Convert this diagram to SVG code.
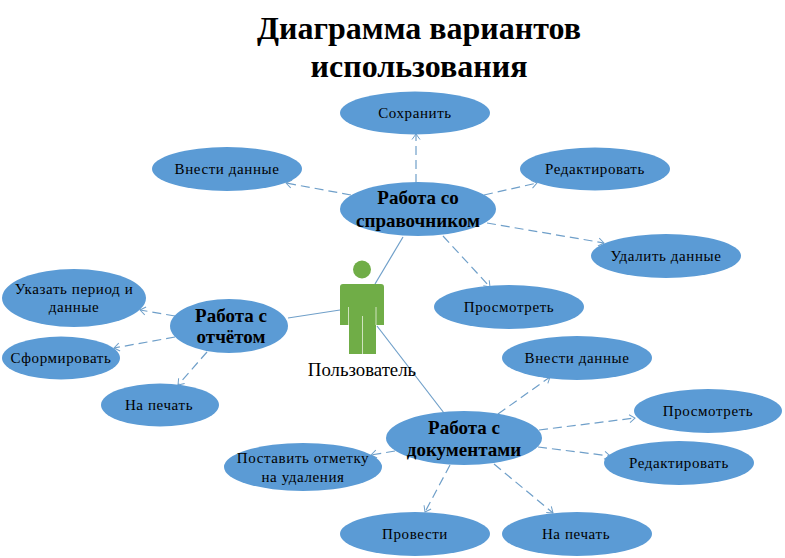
<svg xmlns="http://www.w3.org/2000/svg" width="785" height="558" viewBox="0 0 785 558">
<defs>
<marker id="a" markerUnits="userSpaceOnUse" markerWidth="10" markerHeight="10" refX="8.5" refY="5" orient="auto"><path d="M3 1L8.5 5L3 9" fill="none" stroke="#6f9fc9" stroke-width="1"/></marker>
</defs>
<style>
text{font-family:"Liberation Serif","Times New Roman",serif;text-anchor:middle;fill:#000}
.t{font-size:32px;font-weight:bold}
.n{font-size:15px;letter-spacing:.6px}
.b{font-size:19px;font-weight:bold}
.u{font-size:18.800px}
ellipse{fill:#5b9bd5}
.d{stroke:#6f9fc9;stroke-width:1.2;stroke-dasharray:9 5;fill:none;marker-end:url(#a)}
.s{stroke:#6f9fc9;stroke-width:1.2;fill:none}
</style>
<rect width="785" height="558" fill="#fff"/>
<g id="title"><text class="t" x="419" y="39">Диаграмма вариантов</text><text class="t" x="419" y="77">использования</text></g>
<g id="connectors">
<line class="d" x1="416" y1="183" x2="416" y2="134"/>
<line class="d" x1="351" y1="195" x2="286" y2="183"/>
<line class="d" x1="484" y1="195" x2="537" y2="183"/>
<line class="d" x1="487" y1="223" x2="604" y2="243"/>
<line class="d" x1="443" y1="236" x2="490" y2="287"/>
<line class="s" x1="403" y1="237" x2="375" y2="284"/>
<line class="s" x1="340" y1="310" x2="288" y2="318"/>
<line class="s" x1="377" y1="326" x2="444" y2="413"/>
<line class="d" x1="175" y1="316" x2="140" y2="310"/>
<line class="d" x1="175" y1="337" x2="114" y2="348"/>
<line class="d" x1="207" y1="352" x2="178" y2="385"/>
<line class="d" x1="498" y1="414" x2="550" y2="377"/>
<line class="d" x1="539" y1="430" x2="635" y2="418"/>
<line class="d" x1="538" y1="447" x2="610" y2="456"/>
<line class="d" x1="494" y1="464" x2="553" y2="513"/>
<line class="d" x1="450" y1="465" x2="425" y2="512"/>
<line class="d" x1="395" y1="451" x2="371" y2="455"/>
</g>
<g id="actor">
<circle cx="362" cy="269.500" r="9" fill="#70ad47"/>
<path d="M343 284H381Q384 284 384 287V325H376V354H349V325H340V287Q340 284 343 284Z" fill="#70ad47"/>
<path d="M348.500 307V325M376 307V325M362.500 316V354" stroke="#cfe3bf" stroke-width="1" fill="none"/>
<text class="u" x="362" y="376">Пользователь</text>
</g>
<g id="n1"><ellipse cx="415" cy="113" rx="75" ry="21.500"/><text class="n" x="415" y="118">Сохранить</text></g>
<g id="n2"><ellipse cx="227" cy="169" rx="75" ry="22"/><text class="n" x="227" y="174">Внести данные</text></g>
<g id="n3"><ellipse cx="595" cy="169" rx="75" ry="21.500"/><text class="n" x="595" y="174">Редактировать</text></g>
<g id="n4"><ellipse cx="418" cy="209" rx="78" ry="27"/><text class="b" x="418" y="204">Работа со</text><text class="b" x="418" y="227">справочником</text></g>
<g id="n5"><ellipse cx="666" cy="256" rx="75" ry="22"/><text class="n" x="666" y="261">Удалить данные</text></g>
<g id="n6"><ellipse cx="509" cy="307" rx="75" ry="22"/><text class="n" x="509" y="312">Просмотреть</text></g>
<g id="n7"><ellipse cx="74" cy="298" rx="72" ry="29"/><text class="n" x="74" y="294">Указать период и</text><text class="n" x="74" y="312">данные</text></g>
<g id="n8"><ellipse cx="229" cy="326" rx="59" ry="27"/><text class="b" x="231" y="322">Работа с</text><text class="b" x="231" y="343">отчётом</text></g>
<g id="n9"><ellipse cx="61" cy="358" rx="59" ry="21.500"/><text class="n" x="61" y="363">Сформировать</text></g>
<g id="n10"><ellipse cx="160" cy="405" rx="59" ry="21.500"/><text class="n" x="159" y="410">На печать</text></g>
<g id="n11"><ellipse cx="577" cy="358" rx="75" ry="22"/><text class="n" x="577" y="363">Внести данные</text></g>
<g id="n12"><ellipse cx="708" cy="411" rx="74" ry="22"/><text class="n" x="708" y="416">Просмотреть</text></g>
<g id="n13"><ellipse cx="464" cy="438" rx="78" ry="27"/><text class="b" x="464" y="434">Работа с</text><text class="b" x="464" y="456">документами</text></g>
<g id="n14"><ellipse cx="679" cy="463" rx="75" ry="22"/><text class="n" x="679" y="468">Редактировать</text></g>
<g id="n15"><ellipse cx="303" cy="467" rx="79" ry="24"/><text class="n" x="303" y="463">Поставить отметку</text><text class="n" x="303" y="482">на удаления</text></g>
<g id="n16"><ellipse cx="415" cy="534" rx="75" ry="22"/><text class="n" x="415" y="539">Провести</text></g>
<g id="n17"><ellipse cx="577" cy="534" rx="75" ry="22"/><text class="n" x="576" y="539">На печать</text></g>
</svg>
